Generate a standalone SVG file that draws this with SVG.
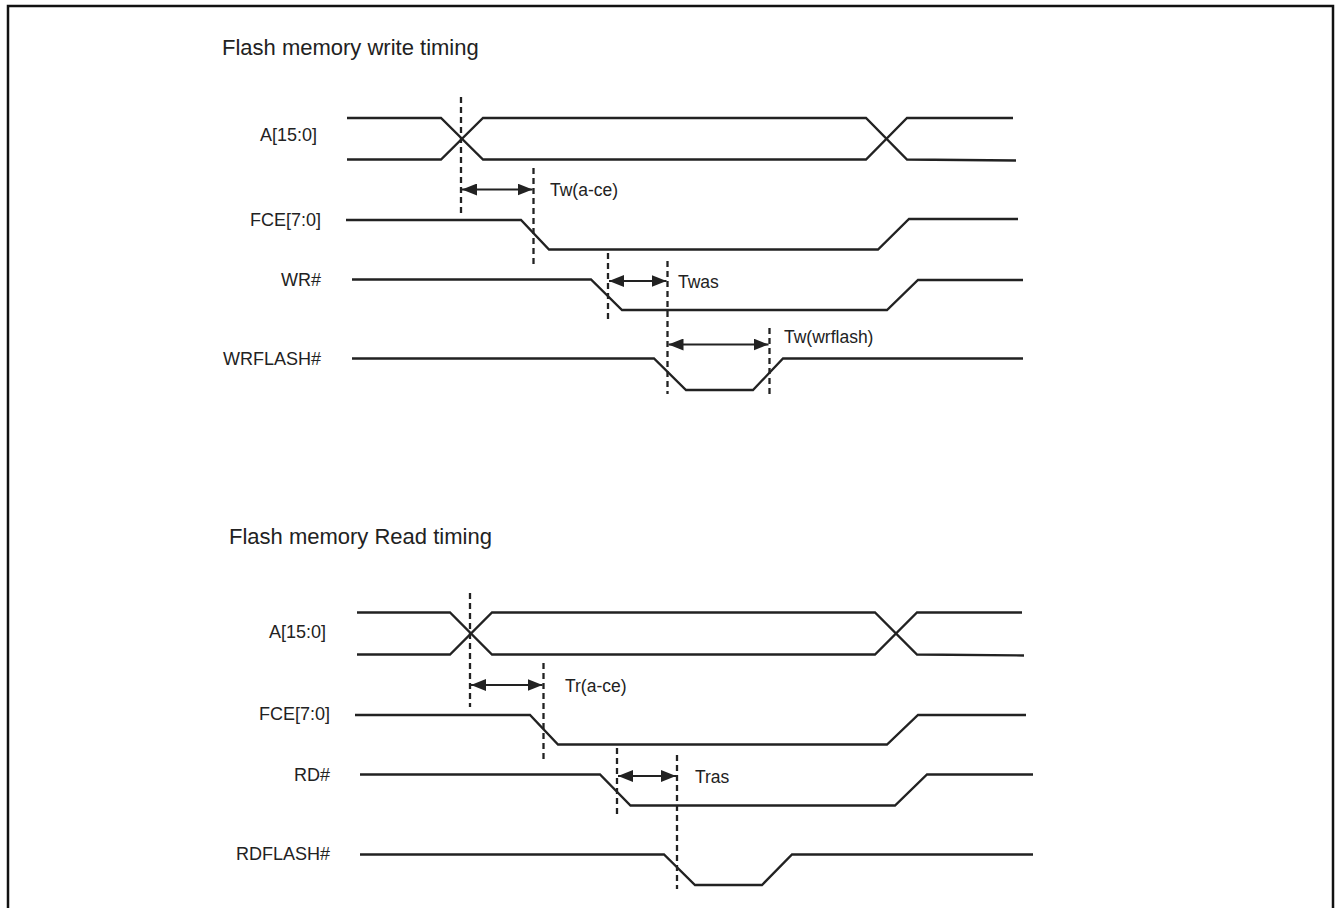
<svg xmlns="http://www.w3.org/2000/svg" width="1336" height="908" viewBox="0 0 1336 908">
<defs>
<style>
.bg{fill:#fff}
.frame{fill:none;stroke:#111;stroke-width:2.5}
.sig{fill:none;stroke:#222;stroke-width:2.3;stroke-linejoin:miter}
.dash{fill:none;stroke:#222;stroke-width:2.3;stroke-dasharray:6,4}
.arr{fill:none;stroke:#222;stroke-width:2.2;marker-start:url(#ah);marker-end:url(#ah)}
.title{font-family:"Liberation Sans",Arial,sans-serif;font-size:22px;fill:#222}
.lbl{font-family:"Liberation Sans",Arial,sans-serif;font-size:18px;fill:#222;text-anchor:end}
.tm{font-family:"Liberation Sans",Arial,sans-serif;font-size:17.5px;fill:#222}
</style>
<marker id="ah" viewBox="0 0 15 12" refX="15" refY="6" markerWidth="15" markerHeight="12" markerUnits="userSpaceOnUse" orient="auto-start-reverse">
<path d="M0,0 L15,6 L0,12 Z" fill="#222"/>
</marker>
</defs>
<rect class="bg" x="0" y="0" width="1336" height="908"/>
<rect class="frame" x="8" y="6" width="1325" height="940"/>

<g id="write-title"><text class="title" x="222" y="55">Flash memory write timing</text></g>

<g id="w-a">
<text class="lbl" x="317" y="141">A[15:0]</text>
<path class="sig" d="M347,118 L441,118 L483,159.5 L866,159.5 L907,118 L1013,118"/>
<path class="sig" d="M347,159.5 L441,159.5 L483,118 L866,118 L907,159.5 L1016,160.5"/>
</g>
<g id="w-fce">
<text class="lbl" x="321" y="226">FCE[7:0]</text>
<path class="sig" d="M346,220 L521,220 L549,249.5 L878,249.5 L909,219 L1018,219"/>
</g>
<g id="w-wr">
<text class="lbl" x="321" y="286">WR#</text>
<path class="sig" d="M352,279.5 L591,279.5 L622,310 L887,310 L918,280 L1023,280"/>
</g>
<g id="w-wrflash">
<text class="lbl" x="321" y="365">WRFLASH#</text>
<path class="sig" d="M352,358.5 L654,358.5 L686,390 L753,390 L783,358.5 L1023,358.5"/>
</g>

<g id="w-timing">
<line class="dash" x1="461" y1="97" x2="461" y2="213"/>
<line class="dash" x1="533.5" y1="168" x2="533.5" y2="264"/>
<line class="arr" x1="462" y1="189.5" x2="532.5" y2="189.5"/>
<text class="tm" x="550" y="196">Tw(a-ce)</text>
<line class="dash" x1="608" y1="253" x2="608" y2="320"/>
<line class="dash" x1="667.5" y1="261" x2="667.5" y2="394"/>
<line class="arr" x1="609" y1="281" x2="666.5" y2="281"/>
<text class="tm" x="678" y="287.5">Twas</text>
<line class="dash" x1="769.5" y1="328" x2="769.5" y2="394"/>
<line class="arr" x1="668.5" y1="344.5" x2="768.5" y2="344.5"/>
<text class="tm" x="784" y="342.5">Tw(wrflash)</text>
</g>

<g id="read-title"><text class="title" x="229" y="544">Flash memory Read timing</text></g>

<g id="r-a">
<text class="lbl" x="326" y="638">A[15:0]</text>
<path class="sig" d="M357,612.5 L450,612.5 L492,654.5 L875,654.5 L917,612.5 L1022,612.5"/>
<path class="sig" d="M357,654.5 L450,654.5 L492,612.5 L875,612.5 L917,654.5 L1024,655.5"/>
</g>
<g id="r-fce">
<text class="lbl" x="330" y="720">FCE[7:0]</text>
<path class="sig" d="M355,715 L530,715 L558,744.5 L887,744.5 L918,715 L1026,715"/>
</g>
<g id="r-rd">
<text class="lbl" x="330" y="781">RD#</text>
<path class="sig" d="M360,774.5 L600,774.5 L630.5,805.5 L895,805.5 L927,774.5 L1033,774.5"/>
</g>
<g id="r-rdflash">
<text class="lbl" x="330" y="860">RDFLASH#</text>
<path class="sig" d="M360,854.5 L664,854.5 L695,885 L762,885 L792,854.5 L1033,854.5"/>
</g>

<g id="r-timing">
<line class="dash" x1="470" y1="593" x2="470" y2="707"/>
<line class="dash" x1="543.5" y1="663" x2="543.5" y2="760"/>
<line class="arr" x1="471" y1="685" x2="542.5" y2="685"/>
<text class="tm" x="565" y="691.5">Tr(a-ce)</text>
<line class="dash" x1="617" y1="748" x2="617" y2="815"/>
<line class="dash" x1="677" y1="755" x2="677" y2="889"/>
<line class="arr" x1="618" y1="776" x2="676" y2="776"/>
<text class="tm" x="695" y="782.5">Tras</text>
</g>
</svg>
